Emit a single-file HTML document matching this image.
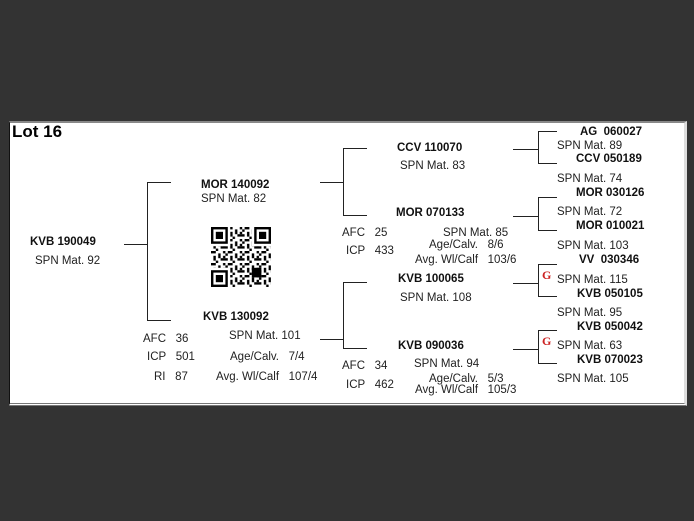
<!DOCTYPE html>
<html><head><meta charset="utf-8"><style>
body{margin:0;width:694px;height:521px;background:#333;position:relative;overflow:hidden;font-family:"Liberation Sans",sans-serif;}
#p{position:absolute;left:9px;top:121px;width:674px;height:280px;background:#fff;border-top:2px solid #888;border-bottom:3px double #777;border-left:1px solid #111;border-right:3px solid #ddd;}
.t{position:absolute;font-size:11.5px;line-height:14px;white-space:nowrap;color:#222;}
.b{font-weight:bold;color:#111;}
.l{position:absolute;background:#222;}
</style></head><body>
<div id="p"></div>
<div class="t b" style="left:12px;top:122px;font-size:17px;line-height:20px;color:#000">Lot 16</div>

<div class="t b" style="left:30px;top:235px">KVB 190049</div>
<div class="t" style="left:35px;top:254px">SPN Mat. 92</div>

<div class="l" style="left:124px;top:244px;width:24px;height:1px"></div>
<div class="l" style="left:147px;top:182px;width:1px;height:139px"></div>
<div class="l" style="left:147px;top:182px;width:24px;height:1px"></div>
<div class="l" style="left:147px;top:320px;width:24px;height:1px"></div>

<div class="t b" style="left:201px;top:178px">MOR 140092</div>
<div class="t" style="left:201px;top:192px">SPN Mat. 82</div>

<svg style="position:absolute;left:211px;top:227px" width="60" height="60" viewBox="0 0 25 25">
<defs><pattern id="q" width="7" height="5" patternUnits="userSpaceOnUse">
<rect x="0" y="0" width="2" height="1" fill="#000"/><rect x="3" y="1" width="1" height="2" fill="#000"/><rect x="5" y="0" width="1" height="1" fill="#000"/><rect x="1" y="2" width="1" height="2" fill="#000"/><rect x="4" y="3" width="3" height="1" fill="#000"/><rect x="6" y="1" width="1" height="1" fill="#000"/><rect x="2" y="4" width="1" height="1" fill="#000"/><rect x="5" y="2" width="1" height="1" fill="#000"/></pattern></defs>
<rect x="0" y="0" width="25" height="25" fill="url(#q)"/>
<g fill="#fff"><rect x="0" y="0" width="8" height="8"/><rect x="17" y="0" width="8" height="8"/><rect x="0" y="17" width="8" height="8"/></g>
<g fill="none" stroke="#000"><rect x="0.5" y="0.5" width="6" height="6"/><rect x="18.5" y="0.5" width="6" height="6"/><rect x="0.5" y="18.5" width="6" height="6"/></g>
<g fill="#000"><rect x="2" y="2" width="3" height="3"/><rect x="20" y="2" width="3" height="3"/><rect x="2" y="20" width="3" height="3"/><rect x="17" y="17" width="4" height="4"/></g>
</svg>

<div class="t b" style="left:203px;top:310px">KVB 130092</div>
<div class="t" style="left:229px;top:329px">SPN Mat. 101</div>
<div class="t" style="left:143px;top:332px">AFC&nbsp;&nbsp; 36</div>
<div class="t" style="left:147px;top:350px">ICP&nbsp;&nbsp; 501</div>
<div class="t" style="left:154px;top:370px">RI&nbsp;&nbsp; 87</div>
<div class="t" style="left:230px;top:350px">Age/Calv.&nbsp;&nbsp; 7/4</div>
<div class="t" style="left:216px;top:370px">Avg. Wl/Calf&nbsp;&nbsp; 107/4</div>

<div class="l" style="left:320px;top:182px;width:24px;height:1px"></div>
<div class="l" style="left:343px;top:148px;width:1px;height:68px"></div>
<div class="l" style="left:343px;top:148px;width:24px;height:1px"></div>
<div class="l" style="left:343px;top:215px;width:24px;height:1px"></div>

<div class="t b" style="left:397px;top:141px">CCV 110070</div>
<div class="t" style="left:400px;top:159px">SPN Mat. 83</div>
<div class="t b" style="left:396px;top:206px">MOR 070133</div>
<div class="t" style="left:342px;top:226px">AFC&nbsp;&nbsp; 25</div>
<div class="t" style="left:346px;top:244px">ICP&nbsp;&nbsp; 433</div>
<div class="t" style="left:443px;top:226px">SPN Mat. 85</div>
<div class="t" style="left:429px;top:238px">Age/Calv.&nbsp;&nbsp; 8/6</div>
<div class="t" style="left:415px;top:253px">Avg. Wl/Calf&nbsp;&nbsp; 103/6</div>

<div class="l" style="left:320px;top:339px;width:24px;height:1px"></div>
<div class="l" style="left:343px;top:282px;width:1px;height:67px"></div>
<div class="l" style="left:343px;top:282px;width:24px;height:1px"></div>
<div class="l" style="left:343px;top:348px;width:24px;height:1px"></div>

<div class="t b" style="left:398px;top:272px">KVB 100065</div>
<div class="t" style="left:400px;top:291px">SPN Mat. 108</div>
<div class="t b" style="left:398px;top:339px">KVB 090036</div>
<div class="t" style="left:342px;top:359px">AFC&nbsp;&nbsp; 34</div>
<div class="t" style="left:346px;top:378px">ICP&nbsp;&nbsp; 462</div>
<div class="t" style="left:414px;top:357px">SPN Mat. 94</div>
<div class="t" style="left:429px;top:372px">Age/Calv.&nbsp;&nbsp; 5/3</div>
<div class="t" style="left:415px;top:383px">Avg. Wl/Calf&nbsp;&nbsp; 105/3</div>

<div class="l" style="left:513px;top:149px;width:25px;height:1px"></div>
<div class="l" style="left:538px;top:131px;width:1px;height:33px"></div>
<div class="l" style="left:538px;top:131px;width:19px;height:1px"></div>
<div class="l" style="left:538px;top:163px;width:19px;height:1px"></div>

<div class="l" style="left:513px;top:216px;width:25px;height:1px"></div>
<div class="l" style="left:538px;top:197px;width:1px;height:34px"></div>
<div class="l" style="left:538px;top:197px;width:19px;height:1px"></div>
<div class="l" style="left:538px;top:230px;width:19px;height:1px"></div>

<div class="l" style="left:513px;top:283px;width:25px;height:1px"></div>
<div class="l" style="left:538px;top:264px;width:1px;height:33px"></div>
<div class="l" style="left:538px;top:264px;width:19px;height:1px"></div>
<div class="l" style="left:538px;top:296px;width:19px;height:1px"></div>

<div class="l" style="left:513px;top:349px;width:25px;height:1px"></div>
<div class="l" style="left:538px;top:330px;width:1px;height:34px"></div>
<div class="l" style="left:538px;top:330px;width:19px;height:1px"></div>
<div class="l" style="left:538px;top:363px;width:19px;height:1px"></div>

<div class="t b" style="left:580px;top:125px">AG&nbsp; 060027</div>
<div class="t" style="left:557px;top:139px">SPN Mat. 89</div>
<div class="t b" style="left:576px;top:152px">CCV 050189</div>
<div class="t" style="left:557px;top:172px">SPN Mat. 74</div>
<div class="t b" style="left:576px;top:186px">MOR 030126</div>
<div class="t" style="left:557px;top:205px">SPN Mat. 72</div>
<div class="t b" style="left:576px;top:219px">MOR 010021</div>
<div class="t" style="left:557px;top:239px">SPN Mat. 103</div>
<div class="t b" style="left:579px;top:253px">VV&nbsp; 030346</div>
<div class="t" style="left:557px;top:273px">SPN Mat. 115</div>
<div class="t b" style="left:577px;top:287px">KVB 050105</div>
<div class="t" style="left:557px;top:306px">SPN Mat. 95</div>
<div class="t b" style="left:577px;top:320px">KVB 050042</div>
<div class="t" style="left:557px;top:339px">SPN Mat. 63</div>
<div class="t b" style="left:577px;top:353px">KVB 070023</div>
<div class="t" style="left:557px;top:372px">SPN Mat. 105</div>

<div class="t" style="left:542px;top:268px;color:#c22;font-size:12px;font-weight:bold;font-family:'Liberation Serif',serif">G</div>
<div class="t" style="left:542px;top:334px;color:#c22;font-size:12px;font-weight:bold;font-family:'Liberation Serif',serif">G</div>
</body></html>
